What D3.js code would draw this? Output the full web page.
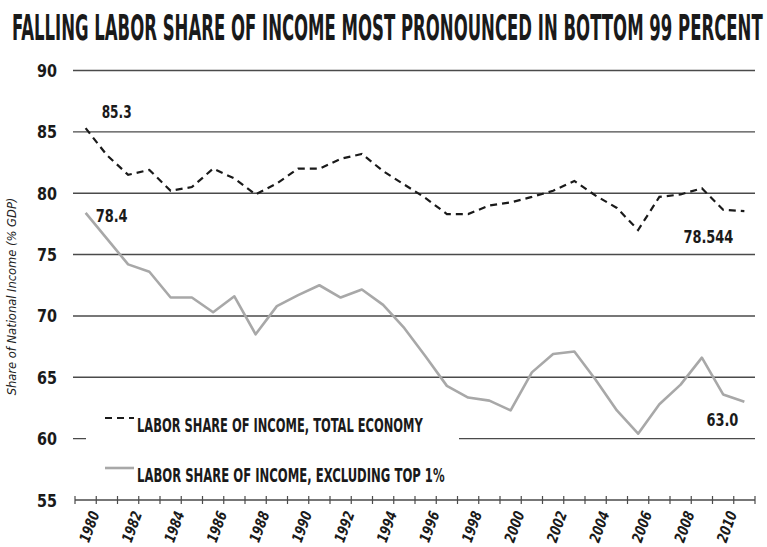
<!DOCTYPE html>
<html>
<head>
<meta charset="utf-8">
<script src="https://cdn.jsdelivr.net/npm/d3@7"></script>
<style>
  html, body { margin: 0; padding: 0; background: #fff; }
  svg { display: block; }
  .cond { font-family: "Liberation Sans Narrow", "DejaVu Sans Condensed", "Arial Narrow", sans-serif; font-weight: bold; fill: #1a1a1a; }
</style>
</head>
<body>
<svg id="chart" width="767" height="547"></svg>
<script>
// Labor share of national income, 1980-2011 (% of GDP)
const years = d3.range(1980, 2012);
const totalEconomy = [85.3, 83.1, 81.5, 81.9, 80.2, 80.5, 82.0, 81.2, 79.9, 80.8,
                      82.0, 82.0, 82.8, 83.2, 81.8, 80.7, 79.6, 78.3, 78.3, 79.0,
                      79.25, 79.7, 80.2, 81.0, 79.8, 78.8, 77.0, 79.7, 79.9, 80.4,
                      78.65, 78.544];
const excludingTop1 = [78.4, 76.3, 74.2, 73.6, 71.5, 71.5, 70.3, 71.6, 68.5, 70.8,
                       71.7, 72.5, 71.5, 72.15, 70.9, 69.0, 66.7, 64.3, 63.35, 63.1,
                       62.3, 65.4, 66.9, 67.1, 64.8, 62.3, 60.4, 62.8, 64.4, 66.6,
                       63.6, 63.0];
const yTicks = [55, 60, 65, 70, 75, 80, 85, 90];
const xLabelYears = d3.range(1980, 2011, 2);
const seriesNames = ["LABOR SHARE OF INCOME, TOTAL ECONOMY", "LABOR SHARE OF INCOME, EXCLUDING TOP 1%"];
const titleText = "FALLING LABOR SHARE OF INCOME MOST PRONOUNCED IN BOTTOM 99 PERCENT";
const yTitle = "Share of National Income (% GDP)";

const svg = d3.select("#chart");
const plotLeft = 75, plotRight = 755, plotTop = 70.5, plotBottom = 500;

const x = d3.scalePoint().domain(years).range([plotLeft, plotRight]).padding(0.5);
const step = x.step();
const y = d3.scaleLinear().domain([55, 90]).range([plotBottom, plotTop]);

// Squeeze a text horizontally so it spans `width` px, anchored at (ax, ay)
function condensed(parent, str, ax, ay, size, width, anchor, cls) {
  const g = parent.append("g");
  const t = g.append("text").attr("class", cls || "cond")
    .attr("font-size", size).attr("text-anchor", anchor || "start").text(str);
  const natural = t.node().getComputedTextLength();
  g.attr("transform", `translate(${ax},${ay}) scale(${width / natural},1)`);
  return t;
}

// Title
condensed(svg, titleText, 12, 40, 35, 751);

// Horizontal gridlines
const grid = svg.append("g");
yTicks.filter(v => v > 55).forEach(v => {
  grid.append("line")
    .attr("x1", 73).attr("x2", plotRight)
    .attr("y1", y(v)).attr("y2", y(v))
    .attr("stroke", "#4a4a4a").attr("stroke-width", 1.4);
});

// Y tick labels
const yLab = svg.append("g");
yTicks.forEach(v => condensed(yLab, String(v), 57, y(v) + 6.5, 18, 20, "end"));

// Y axis title
const yt = svg.append("g").attr("transform", `translate(16,${(205 + 388) / 2}) rotate(-90)`);
condensed(yt, yTitle, 0, 0, 12, 183, "middle", "ytitle")
  .attr("font-family", "'Liberation Sans Narrow', 'DejaVu Sans Condensed', sans-serif")
  .attr("font-style", "italic")
  .attr("fill", "#222");

// X axis with ticks at category boundaries
const xAxis = svg.append("g");
xAxis.append("line")
  .attr("x1", plotLeft).attr("x2", plotRight)
  .attr("y1", plotBottom).attr("y2", plotBottom)
  .attr("stroke", "#4a4a4a").attr("stroke-width", 1.4);
const boundaries = years.map(d => x(d) - step / 2).concat([x(years[years.length - 1]) + step / 2]);
xAxis.selectAll("line.tick").data(boundaries).join("line")
  .attr("class", "tick")
  .attr("x1", d => d).attr("x2", d => d)
  .attr("y1", plotBottom - 4).attr("y2", plotBottom + 4)
  .attr("stroke", "#4a4a4a").attr("stroke-width", 1.2);

xLabelYears.forEach(yr => {
  const g = xAxis.append("g")
    .attr("transform", `translate(${x(yr) + 4},${plotBottom + 9}) rotate(-70) skewX(-8)`);
  condensed(g, String(yr), 0, 11, 15, 32, "end");
});

// Legend panel masks the gridline behind it
svg.append("rect")
  .attr("x", 86).attr("y", 405).attr("width", 373).attr("height", 80)
  .attr("fill", "#fff");

const line = d3.line().x((d, i) => x(years[i])).y(d => y(d));

// Series lines
svg.append("path").datum(excludingTop1)
  .attr("d", line)
  .attr("fill", "none").attr("stroke", "#a8a8a8").attr("stroke-width", 2.6)
  .attr("stroke-linejoin", "round");

svg.append("path").datum(totalEconomy)
  .attr("d", line)
  .attr("fill", "none").attr("stroke", "#1a1a1a").attr("stroke-width", 2.2)
  .attr("stroke-dasharray", "7,5");

// Value labels at the ends of each series
const n = years.length - 1;
condensed(svg, totalEconomy[0].toFixed(1), x(years[0]) + 16, y(totalEconomy[0]) - 10, 18, 30);
condensed(svg, excludingTop1[0].toFixed(1), x(years[0]) + 10, y(excludingTop1[0]) + 9, 18, 32);
condensed(svg, String(totalEconomy[n]), x(years[n]) - 11, y(totalEconomy[n]) + 32, 18, 50, "end");
condensed(svg, excludingTop1[n].toFixed(1), x(years[n]) - 6, y(excludingTop1[n]) + 24, 18, 32, "end");

// Legend
const legend = svg.append("g");
const legendRows = [
  { name: seriesNames[0], y: 418, dash: "7,5", color: "#1a1a1a", width: 2, len: 286 },
  { name: seriesNames[1], y: 468, dash: null, color: "#a8a8a8", width: 2.6, len: 308 }
];
legendRows.forEach(r => {
  legend.append("line")
    .attr("x1", 105).attr("x2", 134)
    .attr("y1", r.y).attr("y2", r.y)
    .attr("stroke", r.color).attr("stroke-width", r.width)
    .attr("stroke-dasharray", r.dash);
  condensed(legend, r.name, 137, r.y + 14, 20, r.len);
});
</script>
</body>
</html>
